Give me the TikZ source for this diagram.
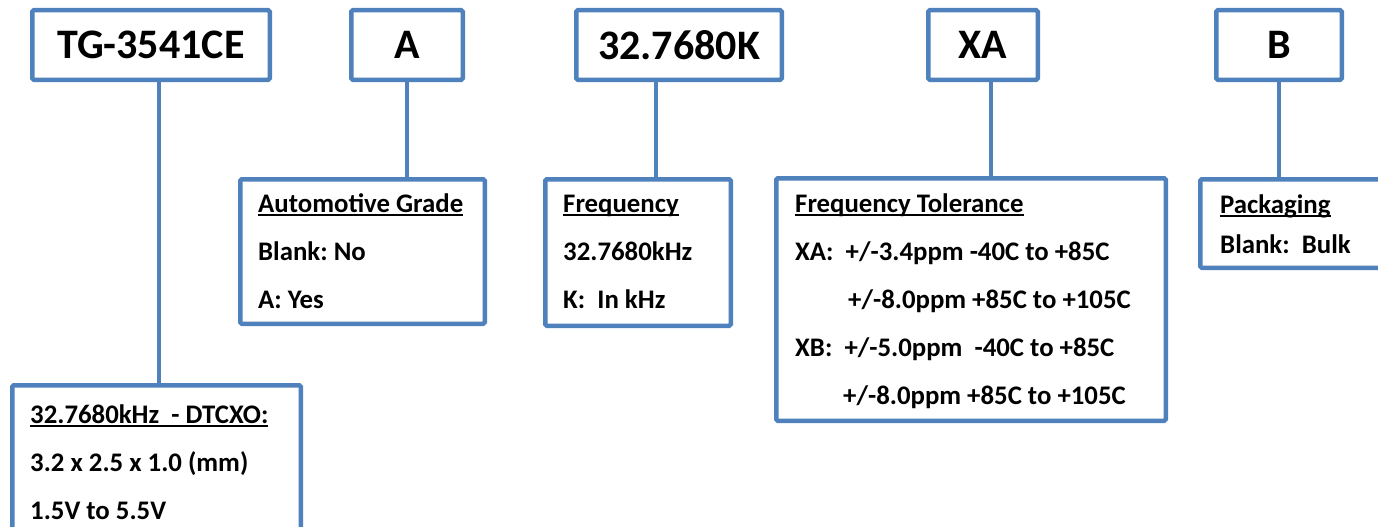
\documentclass[tikz,border=0pt]{standalone}
\usepackage{fontspec}
\setmainfont{Carlito}
\frenchspacing
\definecolor{boxblue}{RGB}{79,129,189}
% underlined heading, rule crossing the descenders
\newcommand{\hdr}[1]{\setbox0=\hbox{#1}\rlap{\rule[-3.5pt]{\wd0}{1.8pt}}\box0}
\tikzset{
  partbox/.style={draw=boxblue, line width=4.5pt, rounded corners=1.5pt, inner sep=0pt, fill=white},
  codebox/.style={partbox, minimum height=69.5pt, font=\fontsize{42}{50}\selectfont\bfseries},
  txt/.style={anchor=base west, inner sep=0pt, font=\fontsize{26.8}{48}\selectfont\bfseries},
  link/.style={draw=boxblue, line width=4.5pt}
}
\begin{document}
\begin{tikzpicture}[x=1pt, y=-1pt]
  \useasboundingbox (0,0) rectangle (1378,527);
  % part number fields
  \node[codebox, minimum width=237.5pt] (tg) at (151,45) {TG-3541CE};
  \node[codebox, minimum width=111.5pt] (a) at (407,45) {A};
  \node[codebox, minimum width=205.5pt] (k) at (679,45) {32.7680K};
  \node[codebox, minimum width=109.5pt] (xa) at (983,45) {XA};
  \node[codebox, minimum width=125.5pt] (b) at (1279,45) {B};
  % explanation boxes
  \node[partbox, minimum width=288.5pt, minimum height=157.5pt] (dtcxo) at (156.5,464) {};
  \node[partbox, minimum width=244.5pt, minimum height=144.5pt] (auto) at (362.5,251.5) {};
  \node[partbox, minimum width=185.5pt, minimum height=146.5pt] (freq) at (638,252.5) {};
  \node[partbox, minimum width=389.5pt, minimum height=242.5pt] (tol) at (971,299.5) {};
  \node[partbox, minimum width=217.5pt, minimum height=88.5pt] (pack) at (1309,223.5) {};
  % connectors
  \draw[link] ([xshift=8pt]tg.south) -- ([xshift=8pt]tg.south |- dtcxo.north);
  \draw[link] (a.south) -- (a.south |- auto.north);
  \draw[link] ([xshift=-23pt]k.south) -- ([xshift=-23pt]k.south |- freq.north);
  \draw[link] ([xshift=8pt]xa.south) -- ([xshift=8pt]xa.south |- tol.north);
  \draw[link] (b.south) -- (b.south |- pack.north);
  % texts
  \node[txt] (dtcxotxt) at (30,423) {\begin{tabular}[t]{@{}l@{}}
    \hdr{32.7680kHz~~- DTCXO:}\\
    3.2 x 2.5 x 1.0 (mm)\\
    1.5V to 5.5V
  \end{tabular}};
  \node[txt] (autotxt) at (258,212) {\begin{tabular}[t]{@{}l@{}}
    \hdr{Automotive Grade}\\
    Blank: No\\
    A: Yes
  \end{tabular}};
  \node[txt] (freqtxt) at (563,212) {\begin{tabular}[t]{@{}l@{}}
    \hdr{Frequency}\\
    32.7680kHz\\
    K:~~In kHz
  \end{tabular}};
  \node[txt] (toltxt) at (795,212) {\begin{tabular}[t]{@{}l@{}}
    \hdr{Frequency Tolerance}\\
    XA:~~+/-3.4ppm -40C to +85C\\
    \hspace*{53pt}+/-8.0ppm +85C to +105C\\
    XB:~~+/-5.0ppm~~-40C to +85C\\
    \hspace*{48pt}+/-8.0ppm +85C to +105C
  \end{tabular}};
  \node[txt, font=\fontsize{26.8}{40}\selectfont\bfseries] (packtxt) at (1220,213) {\begin{tabular}[t]{@{}l@{}}
    \hdr{Packaging}\\
    Blank:~~Bulk
  \end{tabular}};
\end{tikzpicture}
\end{document}
